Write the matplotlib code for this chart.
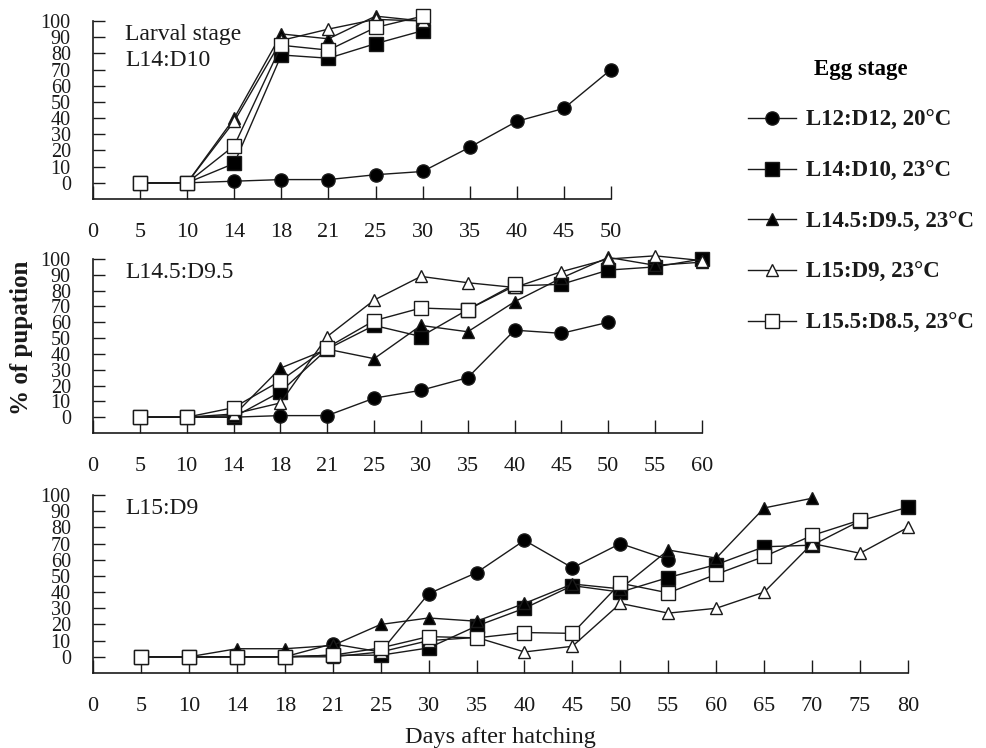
import numpy as np
import matplotlib.pyplot as plt

plt.rcParams['font.family'] = ['Liberation Serif', 'DejaVu Serif']

nan = np.nan

# x categories (evenly spaced, label only at 0)
days_a = ['0', '5', '10', '14', '18', '21', '25', '30', '35', '40', '45', '50']
days_b = days_a + ['55', '60']
days_c = days_b + ['65', '70', '75', '80']

# Larval stage L14:D10 (days 5..50)
a_circle = [0, 0, 1, 2, 2, 5, 7, 22, 38, 46, 70]
a_fsq = [0, 0, 12, 79, 77, 86, 94, nan, nan, nan, nan]
a_ftri = [0, 0, 40, 92, 89, 103, 100, nan, nan, nan, nan]
a_otri = [0, 0, 38, 88, 95, 101, 100, nan, nan, nan, nan]
a_osq = [0, 0, 23, 85, 82, 96, 103, nan, nan, nan, nan]

# L14.5:D9.5 (days 5..60)
b_circle = [0, 0, 0, 1, 1, 12, 17, 25, 55, 53, 60, nan, nan]
b_fsq = [0, 0, 0, 16, 43, 58, 51, 68, 83, 84, 93, 95, 100]
b_ftri = [0, 0, 1, 31, 43, 37, 58, 54, 73, 88, 101, 96, 98]
b_otri = [0, 0, 2, 9, 51, 74, 89, 85, 82, 92, 100, 102, 99]
b_osq = [0, 0, 6, 23, 44, 61, 69, 68, 84, nan, nan, nan, nan]

# L15:D9 (days 5..80)
c_circle = [0, 0, 0, 0, 8, 3, 39, 52, 72, 55, 70, 60, nan, nan, nan, nan, nan]
c_fsq = [0, 0, 0, 0, 1, 1, 5.5, 19, 30, 44, 40, 49, 57, 68, 69, 84, 92.5]
c_ftri = [0, 0, 5, 5, 7, 20, 24, 22, 33, 45, 42, 66, 61, 92, 98, nan, nan]
c_otri = [0, 0, 0, 0, 0, 3, 10, 12, 3, 6.5, 33, 27, 30, 40, 70, 64, 80]
c_osq = [0, 0, 0, 0, 1, 5.5, 12.5, 11.7, 15, 14.5, 45.5, 39.5, 51, 62, 75, 84.5, nan]

legend_labels = ['L12:D12, 20°C', 'L14:D10, 23°C', 'L14.5:D9.5, 23°C',
                 'L15:D9, 23°C', 'L15.5:D8.5, 23°C']
styles = [('o', 'black'), ('s', 'black'), ('^', 'black'), ('^', 'white'), ('s', 'white')]

ink = '#1a1a1a'

fig = plt.figure(figsize=(9.87, 7.48), dpi=100)
W, H = 987.0, 748.0


def make_ax(left, right, top, bottom):
    return fig.add_axes([left / W, 1 - bottom / H, (right - left) / W, (bottom - top) / H])


def draw_panel(ax, days, series, title, width_px):
    x = np.arange(1, len(days))
    lines = []
    for vals, (m, fc), lab in zip(series, styles, legend_labels):
        ln, = ax.plot(x, vals, marker=m, color=ink, lw=1.0, ms=9.5 if m != '^' else 9,
                      mfc=fc, mec=ink, mew=1.0, clip_on=False, label=lab)
        lines.append(ln)
    ax.set_xlim(0, len(days) - 1)
    ax.set_ylim(-10, 100)
    ax.set_xticks(range(len(days)))
    ax.set_xticklabels(days)
    ax.set_yticks(range(0, 101, 10))
    ax.set_yticklabels([str(v) for v in range(0, 101, 10)])
    for s in ['top', 'right']:
        ax.spines[s].set_visible(False)
    for s in ['left', 'bottom']:
        ax.spines[s].set_linewidth(1.2)
        ax.spines[s].set_color(ink)
    ax.tick_params(axis='x', direction='in', length=9.5, width=1.0, pad=17,
                   labelsize=16, colors=ink)
    ax.tick_params(axis='y', direction='in', length=8.5, width=1.0, pad=16,
                   labelsize=14.5, colors=ink)
    ax.text(32 / width_px, 0.985, title, transform=ax.transAxes, fontsize=17,
            va='top', ha='left', color=ink, linespacing=1.35)
    return lines


ax1 = make_ax(93, 611, 21, 199)
ax2 = make_ax(93, 702, 259, 433)
ax3 = make_ax(93, 908, 495, 673)

handles = draw_panel(ax1, days_a, [a_circle, a_fsq, a_ftri, a_otri, a_osq],
                     'Larval stage\nL14:D10', 611 - 93)
draw_panel(ax2, days_b, [b_circle, b_fsq, b_ftri, b_otri, b_osq], 'L14.5:D9.5', 702 - 93)
draw_panel(ax3, days_c, [c_circle, c_fsq, c_ftri, c_otri, c_osq], 'L15:D9', 908 - 93)

fig.text(500 / W, 1 - 738 / H, 'Days after hatching', ha='center', va='center',
         fontsize=17.5, color=ink)
fig.text(22 / W, 1 - 338 / H, '% of pupation', ha='center', va='center',
         rotation=90, fontsize=18, fontweight='bold', color=ink)

leg = fig.legend(handles, legend_labels, loc='upper left',
                 bbox_to_anchor=(748 / W, 1 - 59 / H), frameon=False,
                 title='Egg stage', borderpad=0, borderaxespad=0,
                 prop={'size': 16.5, 'weight': 'bold'},
                 title_fontproperties={'size': 16.5, 'weight': 'bold'},
                 handlelength=2.1, handletextpad=0.45, labelspacing=1.3)
for t in leg.get_texts():
    t.set_color(ink)

fig.savefig('out.png', dpi=100)
